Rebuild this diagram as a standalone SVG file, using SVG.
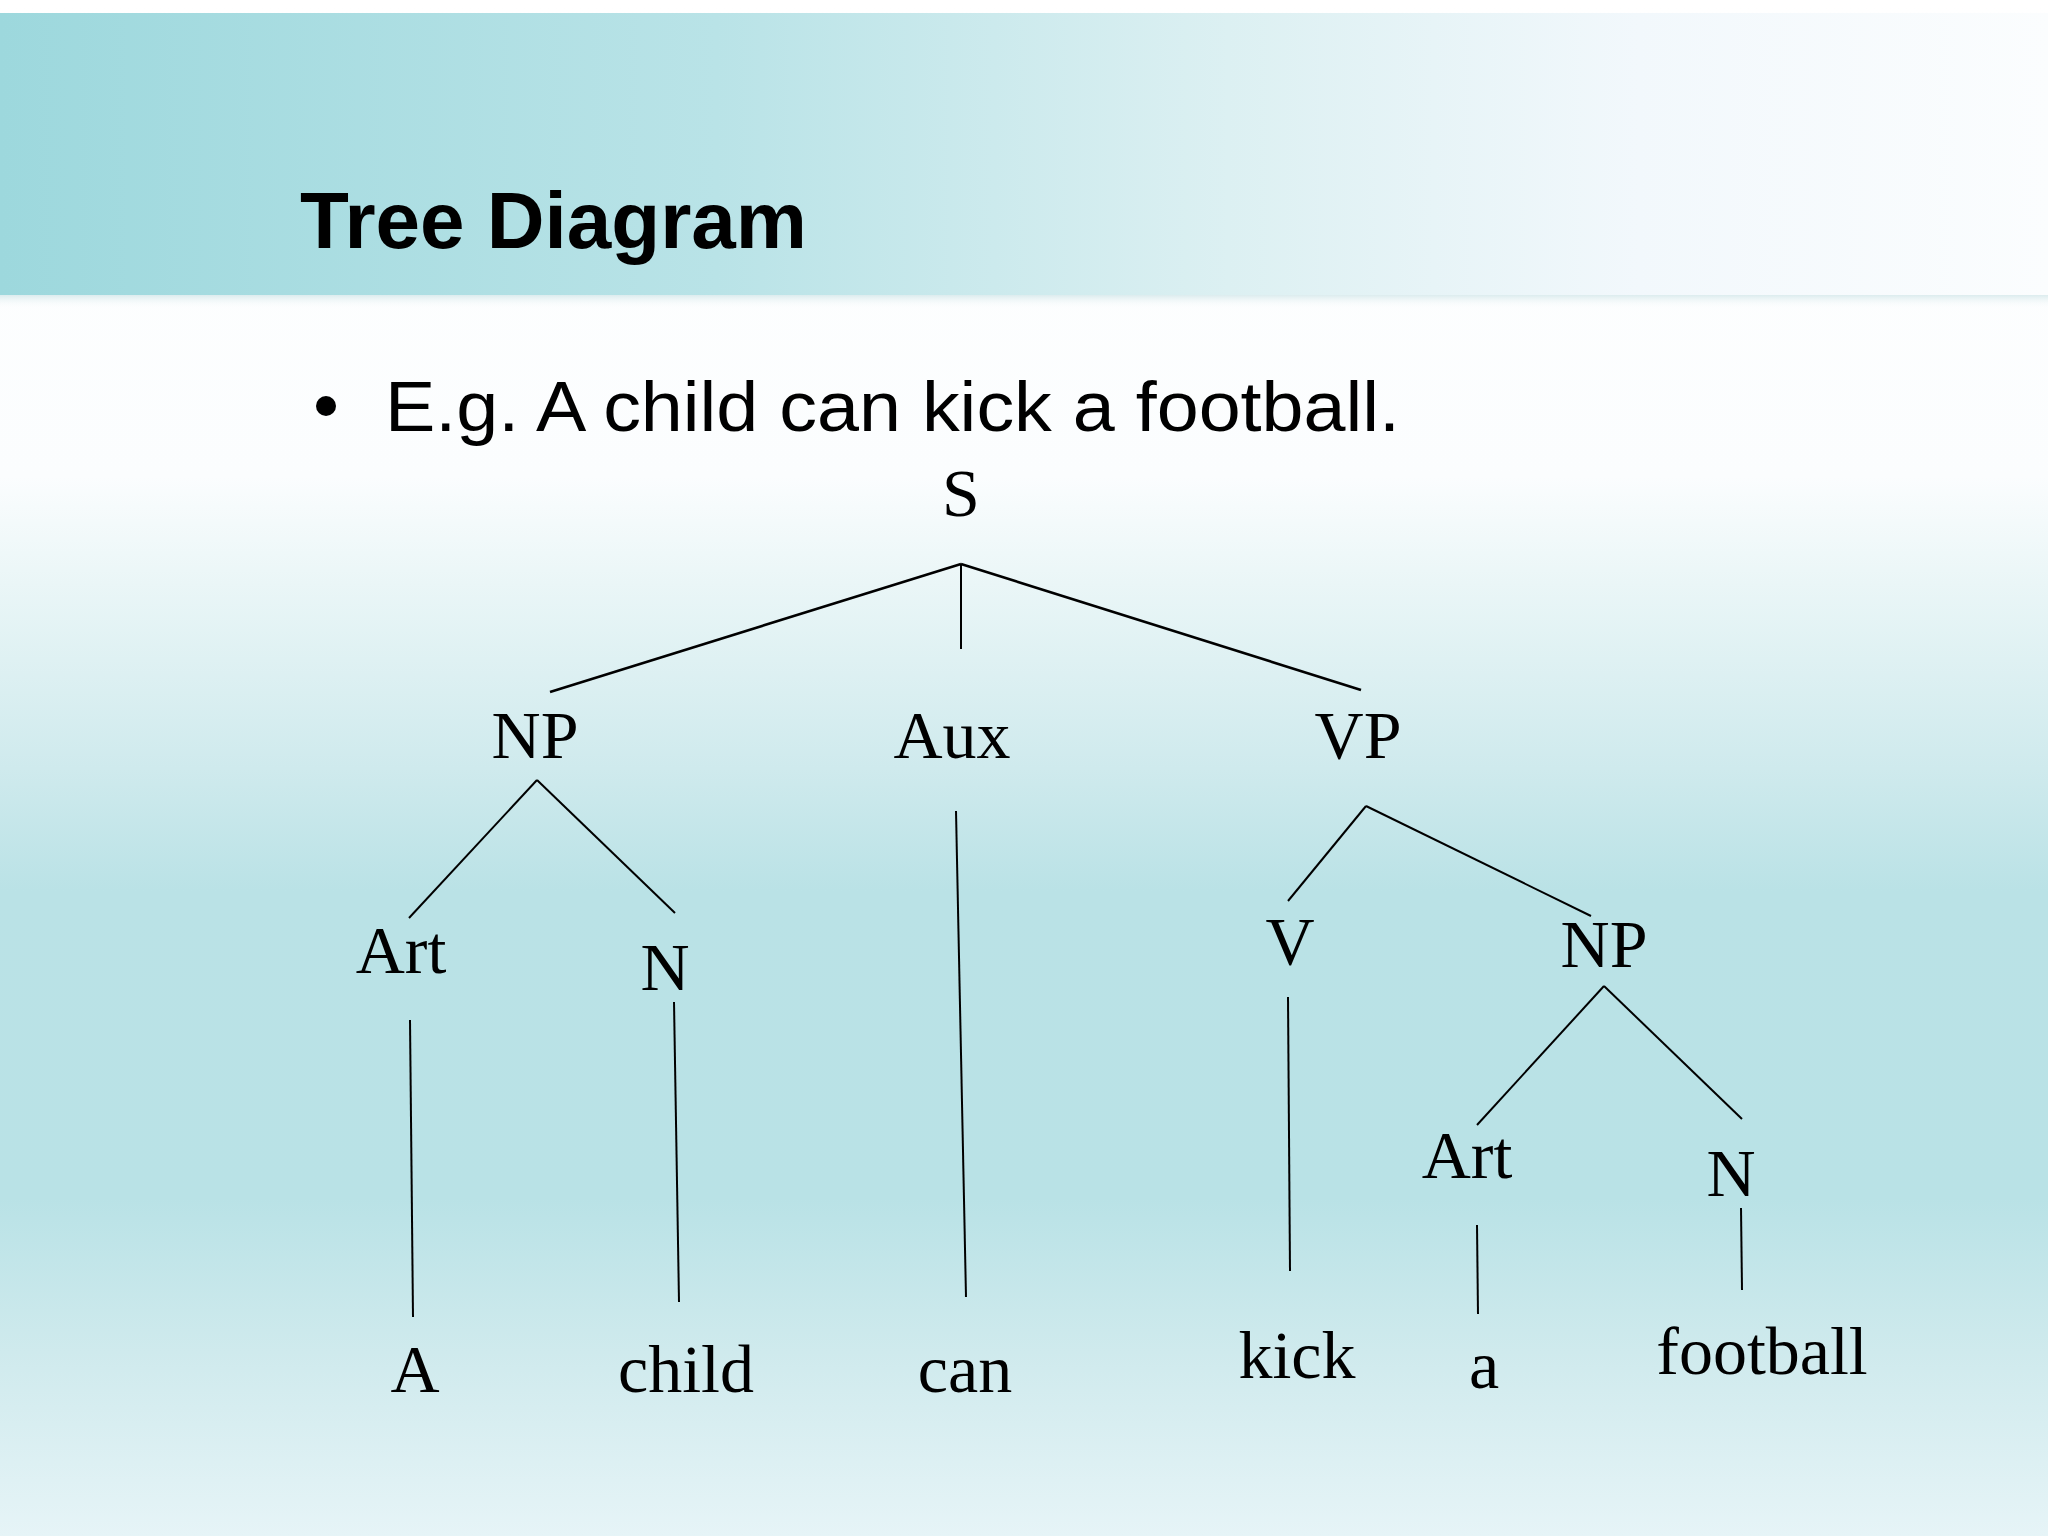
<svg xmlns="http://www.w3.org/2000/svg" width="2048" height="1536" viewBox="0 0 2048 1536">
<defs>
<linearGradient id="bg" x1="0" y1="0" x2="0" y2="1">
<stop offset="0" stop-color="#ffffff"/>
<stop offset="0.31" stop-color="#fbfdfe"/>
<stop offset="0.38" stop-color="#eaf6f7"/>
<stop offset="0.5" stop-color="#cfeaed"/>
<stop offset="0.58" stop-color="#bae2e6"/>
<stop offset="0.78" stop-color="#b9e2e6"/>
<stop offset="0.88" stop-color="#cfeaed"/>
<stop offset="1" stop-color="#e6f4f7"/>
</linearGradient>
<linearGradient id="hdr" x1="0" y1="0" x2="1" y2="0">
<stop offset="0" stop-color="#9dd8dd"/>
<stop offset="0.35" stop-color="#b9e3e7"/>
<stop offset="0.6" stop-color="#dcf0f2"/>
<stop offset="0.8" stop-color="#f2f8fc"/>
<stop offset="1" stop-color="#fbfdfe"/>
</linearGradient>
<linearGradient id="shadow" x1="0" y1="0" x2="0" y2="1">
<stop offset="0" stop-color="#dcecee"/>
<stop offset="1" stop-color="#ffffff" stop-opacity="0"/>
</linearGradient>
</defs>
<style>
.lbl{font-family:"Liberation Serif","Times New Roman",serif;font-size:68px;fill:#000;text-anchor:middle}
.edge{stroke:#000;stroke-width:2;fill:none}
.edge2{stroke:#000;stroke-width:2.6;fill:none}
</style>
<rect width="2048" height="1536" fill="url(#bg)"/>
<rect x="0" y="13" width="2048" height="282" fill="url(#hdr)"/>
<rect x="0" y="295" width="2048" height="14" fill="url(#shadow)"/>
<text x="300" y="248" font-family="'Liberation Sans',Arial,sans-serif" font-weight="bold" font-size="80" fill="#000">Tree Diagram</text>
<circle cx="326" cy="406" r="10" fill="#000"/>
<text x="385" y="431" font-family="'Liberation Sans',Arial,sans-serif" font-size="70" fill="#000" textLength="1015" lengthAdjust="spacingAndGlyphs">E.g. A child can kick a football.</text>
<g id="connectors">
<line class="edge2" x1="961" y1="564" x2="550" y2="692"/>
<line class="edge" x1="961" y1="564" x2="961" y2="649"/>
<line class="edge2" x1="961" y1="564" x2="1361" y2="690"/>
<line class="edge" x1="537" y1="780" x2="409" y2="918"/>
<line class="edge" x1="537" y1="780" x2="675" y2="913"/>
<line class="edge" x1="410" y1="1020" x2="413" y2="1317"/>
<line class="edge" x1="674" y1="1002" x2="679" y2="1302"/>
<line class="edge" x1="956" y1="811" x2="966" y2="1297"/>
<line class="edge" x1="1366" y1="806" x2="1288" y2="901"/>
<line class="edge" x1="1366" y1="806" x2="1591" y2="916"/>
<line class="edge" x1="1288" y1="997" x2="1290" y2="1271"/>
<line class="edge" x1="1604" y1="986" x2="1477" y2="1125"/>
<line class="edge" x1="1604" y1="986" x2="1742" y2="1119"/>
<line class="edge" x1="1477" y1="1225" x2="1478" y2="1314"/>
<line class="edge" x1="1741" y1="1208" x2="1742" y2="1290"/>
</g>
<g id="n-S"><text class="lbl" x="961" y="516">S</text></g>
<g id="n-NP"><text class="lbl" x="535" y="758">NP</text></g>
<g id="n-Aux"><text class="lbl" x="952" y="758">Aux</text></g>
<g id="n-VP"><text class="lbl" x="1358" y="758">VP</text></g>
<g id="n-Art1"><text class="lbl" x="401" y="973">Art</text></g>
<g id="n-N1"><text class="lbl" x="665" y="990">N</text></g>
<g id="n-V"><text class="lbl" x="1290" y="964">V</text></g>
<g id="n-NP2"><text class="lbl" x="1604" y="967">NP</text></g>
<g id="n-Art2"><text class="lbl" x="1467" y="1178">Art</text></g>
<g id="n-N2"><text class="lbl" x="1731" y="1196">N</text></g>
<g id="w-A"><text class="lbl" x="415" y="1392">A</text></g>
<g id="w-child"><text class="lbl" x="686" y="1392">child</text></g>
<g id="w-can"><text class="lbl" x="965" y="1392">can</text></g>
<g id="w-kick"><text class="lbl" x="1297" y="1378">kick</text></g>
<g id="w-a"><text class="lbl" x="1484" y="1388">a</text></g>
<g id="w-football"><text class="lbl" x="1762" y="1374">football</text></g>
</svg>
